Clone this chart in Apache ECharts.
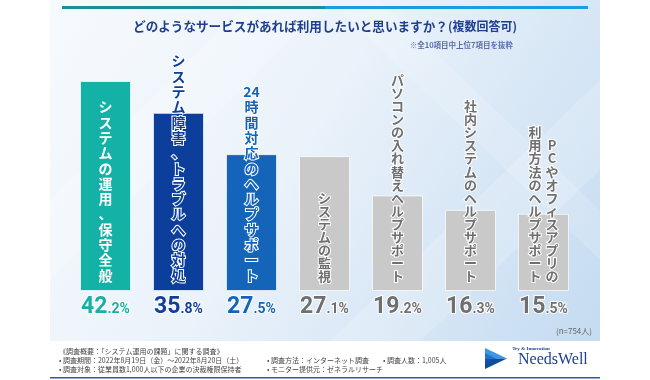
<!DOCTYPE html>
<html><head><meta charset="utf-8">
<script src="https://cdn.jsdelivr.net/npm/echarts@6/dist/echarts.min.js"></script>
<style>html,body{margin:0;padding:0;background:#fff}#c{width:650px;height:380px}</style>
</head><body><div id="c"></div>
<script>
// ---- data ----
const labelColumns = [
  ['システムの運用、保守全般'],
  ['システム障害、トラブルへの対処'],
  ['24時間対応のヘルプサポート'],
  ['システムの監視'],
  ['パソコンの入れ替えヘルプサポート'],
  ['社内システムのヘルプサポート'],
  ['PCやオフィスアプリの', '利用方法のヘルプサポート']
];
const categories = labelColumns.map(c => c.join(''));
const values = [42.2, 35.8, 27.5, 27.1, 19.2, 16.3, 15.5];
const titleMain = 'どのようなサービスがあれば利用したいと思いますか？';
const titleSub = '(複数回答可)';
const noteText = '※全10項目中上位7項目を抜粋';
const sampleText = '(n=754人)';
const footerLeft = [
  '《調査概要：「システム運用の課題」に関する調査》',
  '• 調査期間：2022年8月19日（金）～2022年8月20日（土）',
  '• 調査対象：従業員数1,000人以下の企業の決裁権限保持者'
];
const footerMid = ['• 調査方法：インターネット調査', '• モニター提供元：ゼネラルリサーチ'];
const footerRight = ['• 調査人数：1,005人'];

// ---- styles ----
const barColors = ['#13b1a6', '#0c3f9c', '#1464ba', '#c9c9c9', '#c9c9c9', '#c9c9c9', '#c9c9c9'];
const textColors = ['#ffffff', '#0c3f9c', '#1464ba', '#6f6f6f', '#6f6f6f', '#6f6f6f', '#6f6f6f'];
const valueColors = ['#17b0a6', '#123f9a', '#1464ba', '#6f6f6f', '#6f6f6f', '#6f6f6f', '#6f6f6f'];
const CJK = '"Noto Sans CJK JP","Noto Sans",sans-serif';
const NUM = 'Roboto,"Liberation Sans",sans-serif';

function vertText(cols) {
  const tok = cols.map(s => s.match(/[0-9]+|[\s\S]/g));
  const n = Math.max(...tok.map(t => t.length));
  const padded = tok.map(t => Array(n - t.length).fill(' ').concat(t));
  const order = padded.slice().reverse();
  const lines = [];
  for (let r = 0; r < n; r++) lines.push(order.map(col => '{c|' + col[r] + '}').join(''));
  return lines.join('\n');
}

const barData = values.map((v, i) => {
  const colored = i < 3;
  const fs = colored ? 14 : 13;
  const lh = colored ? 15.3 : 13.1;
  return {
    value: v,
    itemStyle: { color: barColors[i] },
    label: {
      show: true,
      position: 'insideBottom',
      distance: 8,
      formatter: vertText(labelColumns[i]),
      rich: {
        c: {
          fontSize: fs, lineHeight: lh, width: 17, align: 'center',
          fontWeight: 'bold', fontFamily: CJK, color: textColors[i],
          textBorderColor: i === 0 ? 'transparent' : '#ffffff',
          textBorderWidth: i === 0 ? 0 : 2
        }
      }
    }
  };
});

const valData = values.map((v, i) => ({
  value: v,
  label: {
    rich: {
      a: { fontSize: 23, lineHeight: 23, fontWeight: 'bold', fontFamily: NUM, color: valueColors[i], textBorderColor: '#fff', textBorderWidth: 2, verticalAlign: 'bottom' },
      b: { fontSize: 14, lineHeight: 14, fontWeight: 'bold', fontFamily: NUM, color: valueColors[i], textBorderColor: '#fff', textBorderWidth: 2, verticalAlign: 'bottom', padding: [0, 0, 3, 0] }
    }
  }
}));

const chart = echarts.init(document.getElementById('c'), null, { renderer: 'canvas' });

const graphics = [
  { type: 'rect', z: -10, shape: { x: 50, y: 0, width: 550, height: 341 },
    style: { fill: new echarts.graphic.LinearGradient(0, 0, 1, 1, [
      { offset: 0, color: '#f7fafd' }, { offset: 0.45, color: '#eaf2fa' }, { offset: 1, color: '#c4dbf1' }]) } },
  { type: 'polygon', z: -9, shape: { points: [[50, 200], [250, 0], [330, 0], [50, 280]] }, style: { fill: 'rgba(255,255,255,0.22)' } },
  { type: 'polygon', z: -9, shape: { points: [[330, 341], [600, 80], [600, 170], [420, 341]] }, style: { fill: 'rgba(255,255,255,0.18)' } },
  { type: 'polygon', z: -9, shape: { points: [[380, 0], [600, 210], [600, 260], [330, 0]] }, style: { fill: 'rgba(255,255,255,0.15)' } },
  { type: 'rect', z: -8, shape: { x: 62, y: 6, width: 263, height: 3 }, style: { fill: '#1a8f9b' } },
  { type: 'rect', z: -8, shape: { x: 325, y: 6, width: 263, height: 3 }, style: { fill: '#1c9de2' } },
  { type: 'text', z: 5, x: 325, y: 26, style: {
      text: '{m|' + titleMain + '}{p|' + titleSub + '}', align: 'center', verticalAlign: 'middle',
      rich: {
        m: { fontSize: 12.6, fontWeight: 'bold', fontFamily: CJK, fill: '#1f3f8e' },
        p: { fontSize: 12, fontWeight: 'bold', fontFamily: CJK, fill: '#1f3f8e' }
      } } },
  { type: 'text', z: 5, x: 513, y: 45, style: { text: noteText, align: 'right', verticalAlign: 'middle', fontSize: 7.5, fontWeight: 'bold', fontFamily: CJK, fill: '#5b6fa6' } },
  { type: 'text', z: 5, x: 592, y: 331, style: { text: sampleText, align: 'right', verticalAlign: 'middle', fontSize: 8, fontFamily: CJK, fill: '#666' } },
  { type: 'rect', z: 5, shape: { x: 50, y: 377, width: 550, height: 1.5 }, style: { fill: '#2a5aa5' } },
  { type: 'polygon', z: 5, shape: { points: [[485, 348], [507, 358.5], [485, 358.5]] }, style: { fill: '#3a98e6' } },
  { type: 'polygon', z: 5, shape: { points: [[485, 358.5], [507, 358.5], [485, 369]] }, style: { fill: '#0f4c9e' } },
  { type: 'polygon', z: 6, shape: { points: [[485, 353], [496, 358.5], [485, 364]] }, style: { fill: 'rgba(20,90,180,0.6)' } },
  { type: 'text', z: 5, x: 531, y: 349, style: { text: 'Try & Innovation', align: 'center', verticalAlign: 'middle', fontSize: 5, fontWeight: 'bold', fontFamily: '"Liberation Serif",serif', fill: '#1a3f8f' } },
  { type: 'text', z: 5, x: 518, y: 360, style: { text: 'NeedsWell', align: 'left', verticalAlign: 'middle', fontSize: 16, fontFamily: '"Liberation Serif",serif', fill: '#1a3f8f' } }
];
const fstyle = { fontSize: 7, fontFamily: CJK, fill: '#444', verticalAlign: 'middle' };
footerLeft.forEach((t, i) => graphics.push({ type: 'text', z: 5, x: 59, y: 351 + i * 9, style: Object.assign({ text: t }, fstyle) }));
footerMid.forEach((t, i) => graphics.push({ type: 'text', z: 5, x: 267, y: 360 + i * 9, style: Object.assign({ text: t }, fstyle) }));
footerRight.forEach((t, i) => graphics.push({ type: 'text', z: 5, x: 383, y: 360 + i * 9, style: Object.assign({ text: t }, fstyle) }));

chart.setOption({
  animation: false,
  backgroundColor: '#ffffff',
  graphic: graphics,
  grid: { left: 69, top: 81, width: 511, height: 210 },
  xAxis: { type: 'category', data: categories, show: false },
  yAxis: { type: 'value', min: 0, max: Math.max(...values), show: false },
  series: [
    { type: 'bar', z: 2, barWidth: 51, data: barData,
      itemStyle: { borderColor: 'rgba(255,255,255,0.7)', borderWidth: 1 } },
    { type: 'bar', z: 3, barWidth: 51, barGap: '-100%', silent: true, data: valData,
      itemStyle: { color: 'transparent' },
      label: { show: true, position: 'bottom', distance: 5,
        formatter: p => { const s = p.value.toFixed(1).split('.'); return '{a|' + s[0] + '}{b|.' + s[1] + '%}'; } } }
  ]
});
</script></body></html>
